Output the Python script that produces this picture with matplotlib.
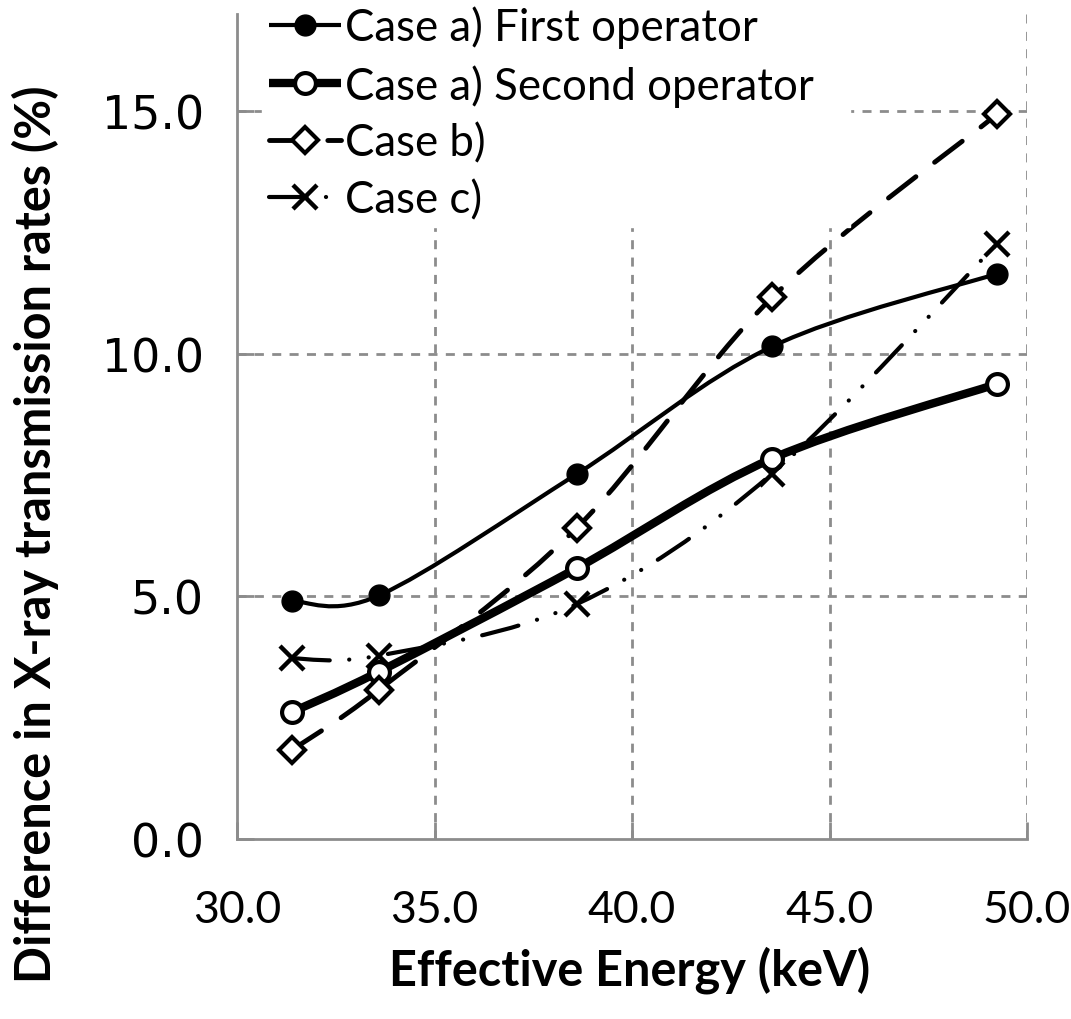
import matplotlib.pyplot as plt
from matplotlib.path import Path
from matplotlib.patches import PathPatch
from matplotlib.lines import Line2D

# effective energy (keV) and difference in transmission rates (%)
energy = [31.4, 33.6, 38.6, 43.55, 49.25]
first_op = [4.90, 5.02, 7.52, 10.15, 11.65]
second_op = [2.62, 3.45, 5.58, 7.84, 9.38]
case_b = [1.84, 3.08, 6.41, 11.16, 14.94]
case_c = [3.72, 3.78, 4.84, 7.53, 12.27]

labels = ["Case a) First operator", "Case a) Second operator", "Case b)", "Case c)"]
xticks = [30, 35, 40, 45, 50]
yticks = [0, 5, 10, 15]

plt.rcParams['font.family'] = ['Lato', 'DejaVu Sans']
plt.rcParams['lines.scale_dashes'] = False


def smooth_path(x, y):
    # excel-like smoothed line (bezier through the points)
    pts = list(zip(x, y))
    n = len(pts)
    verts = [pts[0]]
    codes = [Path.MOVETO]
    for i in range(n - 1):
        p0 = pts[max(i - 1, 0)]
        p1 = pts[i]
        p2 = pts[i + 1]
        p3 = pts[min(i + 2, n - 1)]
        c1 = (p1[0] + (p2[0] - p0[0]) / 6, p1[1] + (p2[1] - p0[1]) / 6)
        c2 = (p2[0] - (p3[0] - p1[0]) / 6, p2[1] - (p3[1] - p1[1]) / 6)
        verts += [c1, c2, p2]
        codes += [Path.CURVE4] * 3
    return Path(verts, codes)


fig = plt.figure(figsize=(10.71, 10.2), dpi=100)
ax = fig.add_axes([237 / 1071, 180 / 1020, 790 / 1071, 825 / 1020])

gray = '#8c8c8c'
dash_b = (0, (25, 17))
dash_c = (0, (27, 14, 0.1, 14, 0.1, 14))
grid_ls = (0, (6.5, 6))

series = [
    (first_op, dict(lw=3, ls='-'), dict(marker='o', ms=15, mfc='black', mec='black', mew=1)),
    (second_op, dict(lw=6, ls='-'), dict(marker='o', ms=15, mfc='white', mec='black', mew=3)),
    (case_b, dict(lw=3.5, ls=dash_b), dict(marker='D', ms=13, mfc='white', mec='black', mew=3)),
    (case_c, dict(lw=3, ls=dash_c), dict(marker='x', ms=17, mfc='none', mec='black', mew=3.2)),
]

handles = []
for vals, lstyle, mstyle in series:
    patch = PathPatch(smooth_path(energy, vals), fill=False, edgecolor='black',
                      capstyle='round', joinstyle='round', zorder=3, **lstyle)
    ax.add_patch(patch)
    ax.plot(energy, vals, ls='none', zorder=4, **mstyle)
    handles.append(Line2D([], [], color='black', lw=lstyle['lw'], ls=lstyle['ls'],
                          solid_capstyle='butt', dash_capstyle='round', **mstyle))

ax.set_xlim(30, 50)
ax.set_ylim(0, 17)
ax.set_xticks(xticks)
ax.set_yticks(yticks)
ax.set_xticklabels([f"{t:.1f}" for t in xticks], fontsize=32)
ax.set_yticklabels([f"{t:.1f}" for t in yticks], fontsize=33, family='DejaVu Sans')
ax.tick_params(axis='both', direction='in', length=12, width=2, color=gray)
ax.tick_params(axis='x', pad=36)
ax.tick_params(axis='y', pad=24)

ax.spines['top'].set_visible(False)
ax.spines['right'].set_visible(False)
for s in ['left', 'bottom']:
    ax.spines[s].set_color(gray)
    ax.spines[s].set_linewidth(2)

for t in xticks[1:]:
    ax.axvline(t, color=gray, lw=2, ls=grid_ls, zorder=1)
for t in yticks[1:]:
    ax.axhline(t, color=gray, lw=2, ls=grid_ls, zorder=1)

ax.set_xlabel("Effective Energy (keV)", fontsize=35, fontweight='bold')
ax.xaxis.set_label_coords(0.497, -0.158)
ax.xaxis.label.set_va('center')
ax.set_ylabel("Difference in X-ray transmission rates (%)", fontsize=35, fontweight='bold')
ax.yaxis.set_label_coords(-0.255, 0.371)
ax.yaxis.label.set_va('center')

# legend box is wider than its text in the original, so stretch it
leg = ax.legend(handles, labels, loc='upper left', mode='expand',
                bbox_to_anchor=(262 / 1071, 0, 588 / 1071, 1.0),
                bbox_transform=fig.transFigure, fontsize=31.5, frameon=True,
                fancybox=False, edgecolor='white', facecolor='white', framealpha=1,
                handlelength=1.65, handletextpad=0.1, labelspacing=0.36, borderpad=0.15,
                borderaxespad=0)
leg.set_zorder(5)

fig.savefig("out.png", dpi=100)
